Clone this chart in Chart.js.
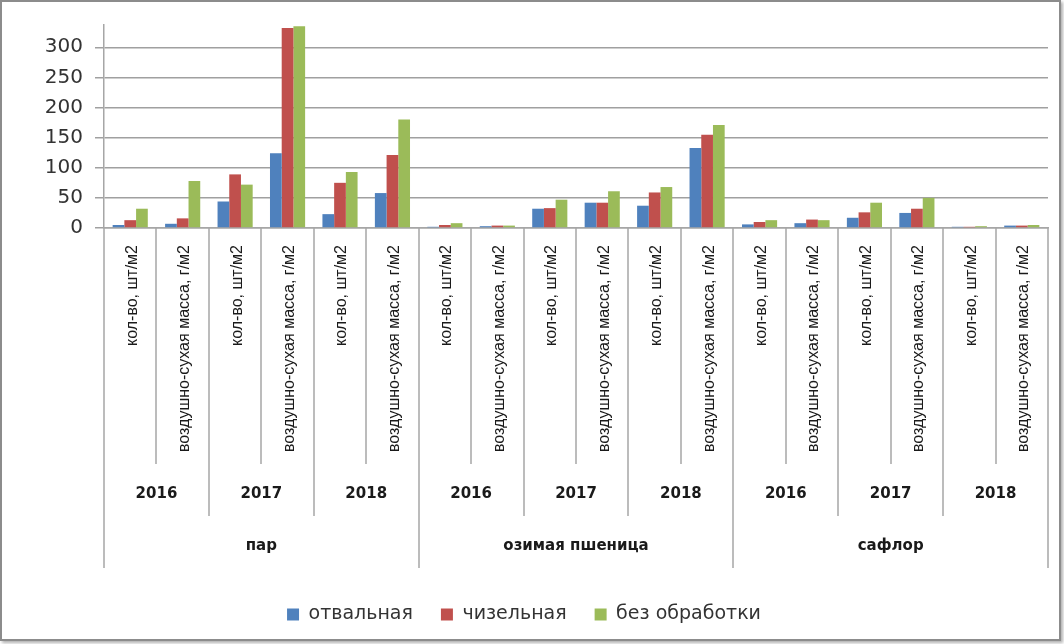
<!DOCTYPE html>
<html>
<head>
<meta charset="utf-8">
<script src="https://cdn.jsdelivr.net/npm/chart.js@4.4.0/dist/chart.umd.min.js"></script>
<style>
  body { margin: 0; background: #fff; }
  #wrap { position: relative; width: 1064px; height: 644px; }
  #frame { position: absolute; left: 0; top: 0; width: 1057px; height: 637px; border: 2px solid #8c8c8c; box-shadow: 2px 2px 3px #b0b0b0; }
  canvas { position: absolute; left: 0; top: 0; }
</style>
</head>
<body>
<div id="wrap"><div id="frame"></div><canvas id="myChart" width="1064" height="644"></canvas></div>
<script>
var measures = ["кол-во, шт/м2", "воздушно-сухая масса, г/м2"];
var years = ["2016", "2017", "2018"];
var crops = ["пар", "озимая пшеница", "сафлор"];
var seriesNames = ["отвальная", "чизельная", "без обработки"];
var yTicks = [0, 50, 100, 150, 200, 250, 300];

var otvalnaya    = [5, 7, 44, 124, 23, 58,  2, 3, 32, 42, 37, 133,  6, 8, 17, 25, 2, 4];
var chizelnaya   = [13, 16, 89, 332, 75, 121,  5, 4, 33, 42, 59, 155,  10, 14, 26, 32, 2, 4];
var bezObrabotki = [32, 78, 72, 335, 93, 180,  8, 4, 47, 61, 68, 171,  13, 13, 42, 50, 3, 5];

var barColors = ["#4F81BD", "#C0504D", "#9BBB59"];

var labels = [];
crops.forEach(function (c) {
  years.forEach(function (y) {
    measures.forEach(function (m) { labels.push(m); });
  });
});

// draws the three-level category axis under the plot
var multiAxis = {
  id: "multiAxis",
  afterDraw: function (chart) {
    var ctx = chart.ctx;
    var xs = chart.scales.x;
    var top = chart.chartArea.bottom;
    var n = labels.length;
    var w = xs.getPixelForValue(1) - xs.getPixelForValue(0);
    var perYear = measures.length;
    var perCrop = measures.length * years.length;
    ctx.save();
    ctx.strokeStyle = "#a6a6a6";
    ctx.lineWidth = 1.5;
    for (var i = 0; i <= n; i++) {
      var bx = Math.round(xs.getPixelForValue(i) - w / 2);
      var len = i % perCrop == 0 ? 340 : (i % perYear == 0 ? 288 : 236);
      ctx.beginPath();
      ctx.moveTo(bx, top);
      ctx.lineTo(bx, top + len);
      ctx.stroke();
    }
    ctx.fillStyle = "#1a1a1a";
    ctx.font = '16px "Liberation Sans"';
    ctx.textAlign = "right";
    ctx.textBaseline = "middle";
    for (var i = 0; i < n; i++) {
      ctx.save();
      ctx.translate(xs.getPixelForValue(i) + 2, top + 17);
      ctx.rotate(-Math.PI / 2);
      ctx.fillText(labels[i], 0, 0);
      ctx.restore();
    }
    ctx.textAlign = "center";
    ctx.font = 'bold 15px "DejaVu Sans"';
    for (var j = 0; j < n / perYear; j++) {
      var cx = (xs.getPixelForValue(j * perYear) + xs.getPixelForValue(j * perYear + perYear - 1)) / 2;
      ctx.fillText(years[j % years.length], cx, top + 266);
    }
    for (var k = 0; k < crops.length; k++) {
      var cx2 = (xs.getPixelForValue(k * perCrop) + xs.getPixelForValue(k * perCrop + perCrop - 1)) / 2;
      ctx.fillText(crops[k], cx2, top + 318);
    }
    ctx.restore();
  }
};

new Chart("myChart", {
  type: "bar",
  data: {
    labels: labels,
    datasets: [
      { label: seriesNames[0], data: otvalnaya, backgroundColor: barColors[0] },
      { label: seriesNames[1], data: chizelnaya, backgroundColor: barColors[1] },
      { label: seriesNames[2], data: bezObrabotki, backgroundColor: barColors[2] }
    ]
  },
  options: {
    responsive: false,
    animation: false,
    layout: { padding: { left: 0, top: 25, right: 16, bottom: 10 } },
    datasets: { bar: { categoryPercentage: 0.67, barPercentage: 1.0 } },
    plugins: {
      legend: {
        position: "bottom",
        labels: {
          boxWidth: 12, boxHeight: 12, padding: 28, color: "#333",
          font: { family: "DejaVu Sans", size: 19 }
        }
      },
      tooltip: { enabled: false }
    },
    scales: {
      x: {
        ticks: { display: false },
        grid: { display: false },
        border: { color: "#a6a6a6", width: 1.5 },
        afterFit: function (s) { s.height = 349; }
      },
      y: {
        min: 0, max: 337,
        afterFit: function (s) { s.width = 104; },
        afterBuildTicks: function (s) { s.ticks = yTicks.map(function (v) { return { value: v }; }); },
        ticks: { color: "#333", padding: 12, font: { family: "DejaVu Sans", size: 20 } },
        grid: { color: "#a0a0a0", lineWidth: 1.5, tickLength: 9 },
        border: { color: "#a6a6a6", width: 1.5 }
      }
    }
  },
  plugins: [multiAxis]
});
</script>
</body>
</html>
